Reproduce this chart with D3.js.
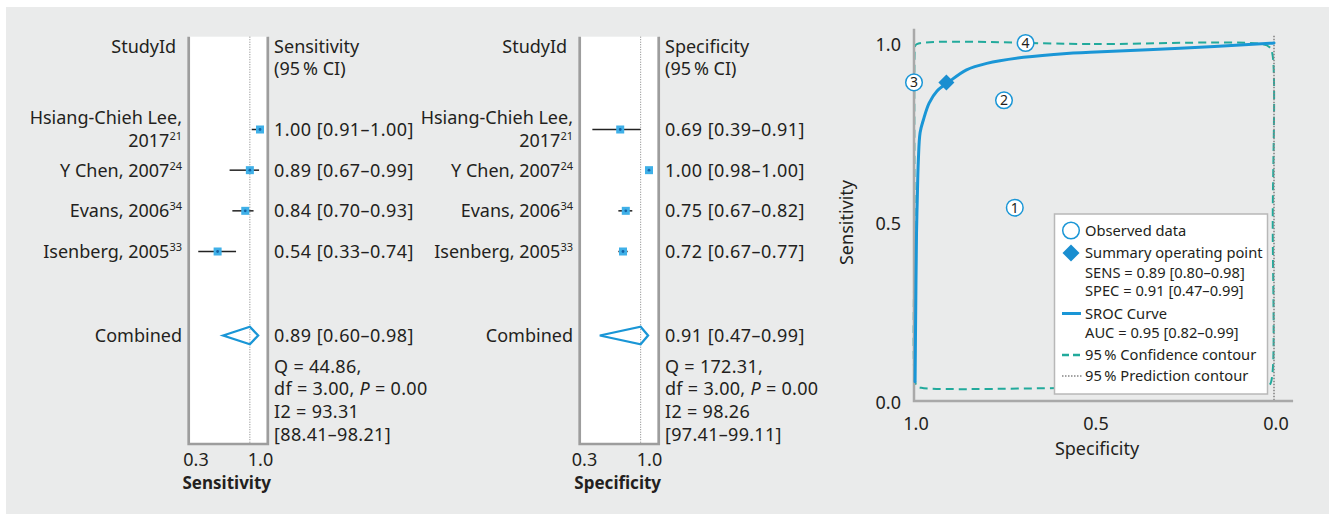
<!DOCTYPE html>
<html><head><meta charset="utf-8">
<script src="https://cdn.jsdelivr.net/npm/d3@7"></script>
<style>
html,body{margin:0;padding:0;background:#fff;}
svg{display:block;font-family:"Noto Sans",sans-serif;}
</style></head><body>
<svg id="chart" width="1335" height="514"></svg>
<script>
// ---------- data ----------
const studyNames = ["Hsiang-Chieh Lee, 2017", "Y Chen, 2007", "Evans, 2006", "Isenberg, 2005"];
const studyRefs = ["21", "24", "34", "33"];
const studyNumbers = [4, 3, 2, 1];
const sensEst  = [1.00, 0.89, 0.84, 0.54];
const sensLow  = [0.91, 0.67, 0.70, 0.33];
const sensHigh = [1.00, 0.99, 0.93, 0.74];
const specEst  = [0.69, 1.00, 0.75, 0.72];
const specLow  = [0.39, 0.98, 0.67, 0.67];
const specHigh = [0.91, 1.00, 0.82, 0.77];
const pooledSens = [0.89, 0.60, 0.98];
const pooledSpec = [0.91, 0.47, 0.99];
const sensStats = ["Q = 44.86,", "df = 3.00, P = 0.00", "I2 = 93.31", "[88.41–98.21]"];
const specStats = ["Q = 172.31,", "df = 3.00, P = 0.00", "I2 = 98.26", "[97.41–99.11]"];
const forestTicks = [0.3, 1.0];
const rocTicks = [0, 0.5, 1.0];
// SROC curve (specificity, sensitivity)
const srocSpec = [0.997, 0.995, 0.993, 0.991, 0.988, 0.983, 0.974, 0.958, 0.936, 0.905, 0.854, 0.798, 0.696, 0.576, 0.511, 0.261, 0.011, 0.0];
const srocSens = [0.054, 0.28, 0.47, 0.56, 0.67, 0.75, 0.785, 0.832, 0.866, 0.890, 0.925, 0.943, 0.960, 0.971, 0.974, 0.985, 0.999, 1.0];
// 95% confidence contour
const confSpec = [0.992, 0.50, 0.035, 0.012, 0.0045, 0.0035, 0.0045, 0.012, 0.030, 0.50, 0.980, 0.992, 0.997, 0.9985, 0.9985, 0.9975];
const confSens = [0.997, 0.997, 0.997, 0.988, 0.970, 0.50, 0.075, 0.045, 0.037, 0.037, 0.037, 0.042, 0.055, 0.50, 0.970, 0.990];
// 95% prediction contour (visible part)
const predSpec = [0.0, 0.0];
const predSens = [1.02, 0.0];
const legendLabels = ["Observed data", "Summary operating point", "SENS = 0.89 [0.80–0.98]", "SPEC = 0.91 [0.47–0.99]",
  "SROC Curve", "AUC = 0.95 [0.82–0.99]", "95\u202F% Confidence contour", "95\u202F% Prediction contour"];

// ---------- drawing ----------
const TXT = "#231f20", BLUE = "#1a96d6", SQ = "#3fb0e8", DOT = "#1565a8", TEAL = "#22aa9c", GRAY = "#9d9d9d";
const svg = d3.select("#chart");
svg.append("rect").attr("x", 6).attr("y", 7).attr("width", 1323).attr("height", 507).attr("fill", "#eaebeb");

const fmt2 = d3.format(".2f");
function addText(g, x, y, s, size, anchor, weight) {
  return g.append("text").attr("x", x).attr("y", y).attr("font-size", size)
    .attr("text-anchor", anchor || "start").attr("font-weight", weight || "normal").attr("fill", TXT).text(s);
}

function forest(opt) {
  const g = svg.append("g");
  const x = d3.scaleLinear().domain([0.3, 1.0]).range(opt.range);
  const rowY = d3.scalePoint().domain(d3.range(studyNames.length)).range([129.5, 251.5]);
  const bx0 = opt.box[0], bx1 = opt.box[1], by0 = 36.7, by1 = 444;
  g.append("rect").attr("x", bx0).attr("y", by0).attr("width", bx1 - bx0).attr("height", by1 - by0).attr("fill", "#fff");
  g.append("line").attr("x1", x(opt.pooled[0])).attr("x2", x(opt.pooled[0])).attr("y1", by0).attr("y2", by1)
    .attr("stroke", "#808080").attr("stroke-width", 1).attr("stroke-dasharray", "1,1.5");
  g.append("path").attr("d", `M${bx0},${by0}V${by1}H${bx1}V${by0}`).attr("fill", "none")
    .attr("stroke", GRAY).attr("stroke-width", 2.7);
  const labR = bx0 - 6.7, valX = bx1 + 6.3;
  // headers
  addText(g, bx0 - 12.5, 52.7, "StudyId", 18, "end");
  addText(g, valX, 52.7, opt.title, 18);
  addText(g, valX, 74.5, "(95\u202F% CI)", 18);
  // studies
  studyNames.forEach((name, i) => {
    const y = rowY(i);
    let lines = name.length > 16 ? [name.slice(0, name.indexOf(",") + 1), name.slice(name.indexOf(",") + 2)] : [name];
    lines.forEach((ln, j) => {
      const base = lines.length > 1 ? (j === 0 ? y - 5.5 : y + 17) : y + 6.5;
      const t = g.append("text").attr("x", labR).attr("y", base).attr("font-size", 18)
        .attr("text-anchor", "end").attr("fill", TXT);
      t.append("tspan").text(ln);
      if (j === lines.length - 1) t.append("tspan").attr("font-size", 11).attr("dy", -7).text(studyRefs[i]);
    });
    g.append("line").attr("x1", x(opt.low[i])).attr("x2", x(opt.high[i])).attr("y1", y).attr("y2", y)
      .attr("stroke", "#222").attr("stroke-width", 1.5);
    g.append("rect").attr("x", x(opt.est[i]) - 4).attr("y", y - 4).attr("width", 8).attr("height", 8).attr("fill", SQ);
    g.append("circle").attr("cx", x(opt.est[i])).attr("cy", y).attr("r", 1.4).attr("fill", DOT);
    addText(g, valX, y + 6.5, `${fmt2(opt.est[i])} [${fmt2(opt.low[i])}–${fmt2(opt.high[i])}]`, 18).attr("letter-spacing", 0.45);
  });
  // combined
  const cy = 335.5;
  addText(g, labR, cy + 6.8, "Combined", 18, "end");
  const p = opt.pooled;
  g.append("polygon").attr("points", [[x(p[1]), cy], [x(p[0]), cy - 8.8], [x(p[2]), cy], [x(p[0]), cy + 8.8]].map(d => d.join(",")).join(" "))
    .attr("fill", "none").attr("stroke", BLUE).attr("stroke-width", 2.3).attr("stroke-linejoin", "miter");
  addText(g, valX, cy + 6.8, `${fmt2(p[0])} [${fmt2(p[1])}–${fmt2(p[2])}]`, 18).attr("letter-spacing", 0.45);
  const statY = [372.5, 395, 418, 440.5];
  opt.stats.forEach((s, i) => {
    const t = g.append("text").attr("x", valX).attr("y", statY[i]).attr("font-size", 18).attr("fill", TXT).attr("letter-spacing", 0.3);
    const k = s.indexOf("P =");
    if (k >= 0) {
      t.append("tspan").text(s.slice(0, k));
      t.append("tspan").attr("font-style", "italic").text("P");
      t.append("tspan").text(s.slice(k + 1));
    } else t.text(s);
  });
  // axis
  const ax = g.append("g").attr("transform", `translate(0,${by1})`)
    .call(d3.axisBottom(x).tickValues(forestTicks).tickSize(0).tickPadding(9).tickFormat(d3.format(".1f")));
  ax.select(".domain").remove();
  ax.attr("font-family", null).attr("font-size", 18);
  ax.selectAll("text").attr("fill", TXT);
  addText(g, (bx0 + bx1) / 2 - 1.5, 488.5, opt.axisLabel, 17, "middle", "bold");
}

forest({ range: [195.5, 260], box: [188.7, 267.8], est: sensEst, low: sensLow, high: sensHigh, pooled: pooledSens,
  title: "Sensitivity", stats: sensStats, axisLabel: "Sensitivity" });
forest({ range: [584, 649], box: [579.7, 658.7], est: specEst, low: specLow, high: specHigh, pooled: pooledSpec,
  title: "Specificity", stats: specStats, axisLabel: "Specificity" });

// ---------- SROC ----------
const g = svg.append("g");
const xr = d3.scaleLinear().domain([1, 0]).range([914, 1274]);
const yr = d3.scaleLinear().domain([0, 1]).range([401, 43]);

const confPts = confSpec.map((s, i) => [s, confSens[i]]);
g.append("path").attr("d", d3.line().x(d => xr(d[0])).y(d => yr(d[1])).curve(d3.curveCatmullRomClosed.alpha(0.5))(confPts))
  .attr("fill", "none").attr("stroke", TEAL).attr("stroke-width", 2).attr("stroke-dasharray", "8,5");
const predPts = predSpec.map((s, i) => [s, predSens[i]]);
g.append("path").attr("d", d3.line().x(d => xr(d[0])).y(d => yr(d[1])) (predPts))
  .attr("fill", "none").attr("stroke", "#858585").attr("stroke-width", 1.6).attr("stroke-dasharray", "1.5,1.5");

// axes lines
g.append("path").attr("d", `M${xr(1)},${yr(1.04)}V${yr(0)}H${xr(-0.053)}`).attr("fill", "none")
  .attr("stroke", "#a9a9a9").attr("stroke-width", 2.5);

const srocPts = srocSpec.map((s, i) => [s, srocSens[i]]);
g.append("path").attr("d", d3.line().x(d => xr(d[0])).y(d => yr(d[1])).curve(d3.curveCatmullRom.alpha(0.5))(srocPts))
  .attr("fill", "none").attr("stroke", BLUE).attr("stroke-width", 3).attr("stroke-linecap", "round");

// observed data
specEst.forEach((s, i) => {
  const cx = xr(s), cy = yr(sensEst[i]);
  g.append("circle").attr("cx", cx).attr("cy", cy).attr("r", 8.3).attr("fill", "#fff").attr("stroke", BLUE).attr("stroke-width", 1.5);
  g.append("text").attr("x", cx).attr("y", cy + 5).attr("text-anchor", "middle").attr("font-size", 14).attr("fill", TXT).text(studyNumbers[i]);
});
// summary point
function diamond(cx, cy, r) { return `M${cx},${cy - r}L${cx + r},${cy}L${cx},${cy + r}L${cx - r},${cy}Z`; }
g.append("path").attr("d", diamond(xr(pooledSpec[0]), yr(pooledSens[0]), 8)).attr("fill", "#1a8ed0");

// axes ticks
const axY = g.append("g").attr("transform", `translate(${xr(1)},0)`)
  .call(d3.axisLeft(yr).tickValues(rocTicks).tickSize(0).tickPadding(13).tickFormat(d3.format(".1f")));
axY.select(".domain").remove();
axY.attr("font-family", null).attr("font-size", 18);
axY.selectAll("text").attr("fill", TXT).attr("dy", "0.42em");
const axX = g.append("g").attr("transform", `translate(0,${yr(0)})`)
  .call(d3.axisBottom(xr).tickValues(rocTicks).tickSize(0).tickPadding(16).tickFormat(d3.format(".1f")));
axX.select(".domain").remove();
axX.attr("font-family", null).attr("font-size", 18);
axX.selectAll("text").attr("fill", TXT).attr("dx", 1.5);
addText(g, 1097, 455, "Specificity", 18, "middle");
g.append("text").attr("transform", "translate(853,222.5) rotate(-90)").attr("text-anchor", "middle")
  .attr("font-size", 18).attr("fill", TXT).text("Sensitivity");

// legend
const lg = g.append("g");
lg.append("rect").attr("x", 1054.5).attr("y", 214).attr("width", 213).attr("height", 180)
  .attr("fill", "#fff").attr("stroke", "#b8b8b8").attr("stroke-width", 1.5);
const ly = [230.5, 253, 272.5, 291, 313.5, 332.5, 355, 376];
legendLabels.forEach((s, i) => {
  lg.append("text").attr("x", 1085).attr("y", ly[i] + 5.3).attr("font-size", 14.7).attr("fill", TXT).text(s);
});
lg.append("circle").attr("cx", 1071).attr("cy", ly[0]).attr("r", 8.3).attr("fill", "#fff").attr("stroke", BLUE).attr("stroke-width", 1.5);
lg.append("path").attr("d", diamond(1071, ly[1], 8.5)).attr("fill", "#1a8ed0");
lg.append("line").attr("x1", 1062).attr("x2", 1081).attr("y1", ly[4]).attr("y2", ly[4]).attr("stroke", BLUE).attr("stroke-width", 3);
lg.append("line").attr("x1", 1062).attr("x2", 1083).attr("y1", ly[6]).attr("y2", ly[6]).attr("stroke", TEAL).attr("stroke-width", 2.5).attr("stroke-dasharray", "7,4");
lg.append("line").attr("x1", 1062).attr("x2", 1083).attr("y1", ly[7]).attr("y2", ly[7]).attr("stroke", "#858585").attr("stroke-width", 1.5).attr("stroke-dasharray", "1.5,1.5");
</script>
</body></html>
